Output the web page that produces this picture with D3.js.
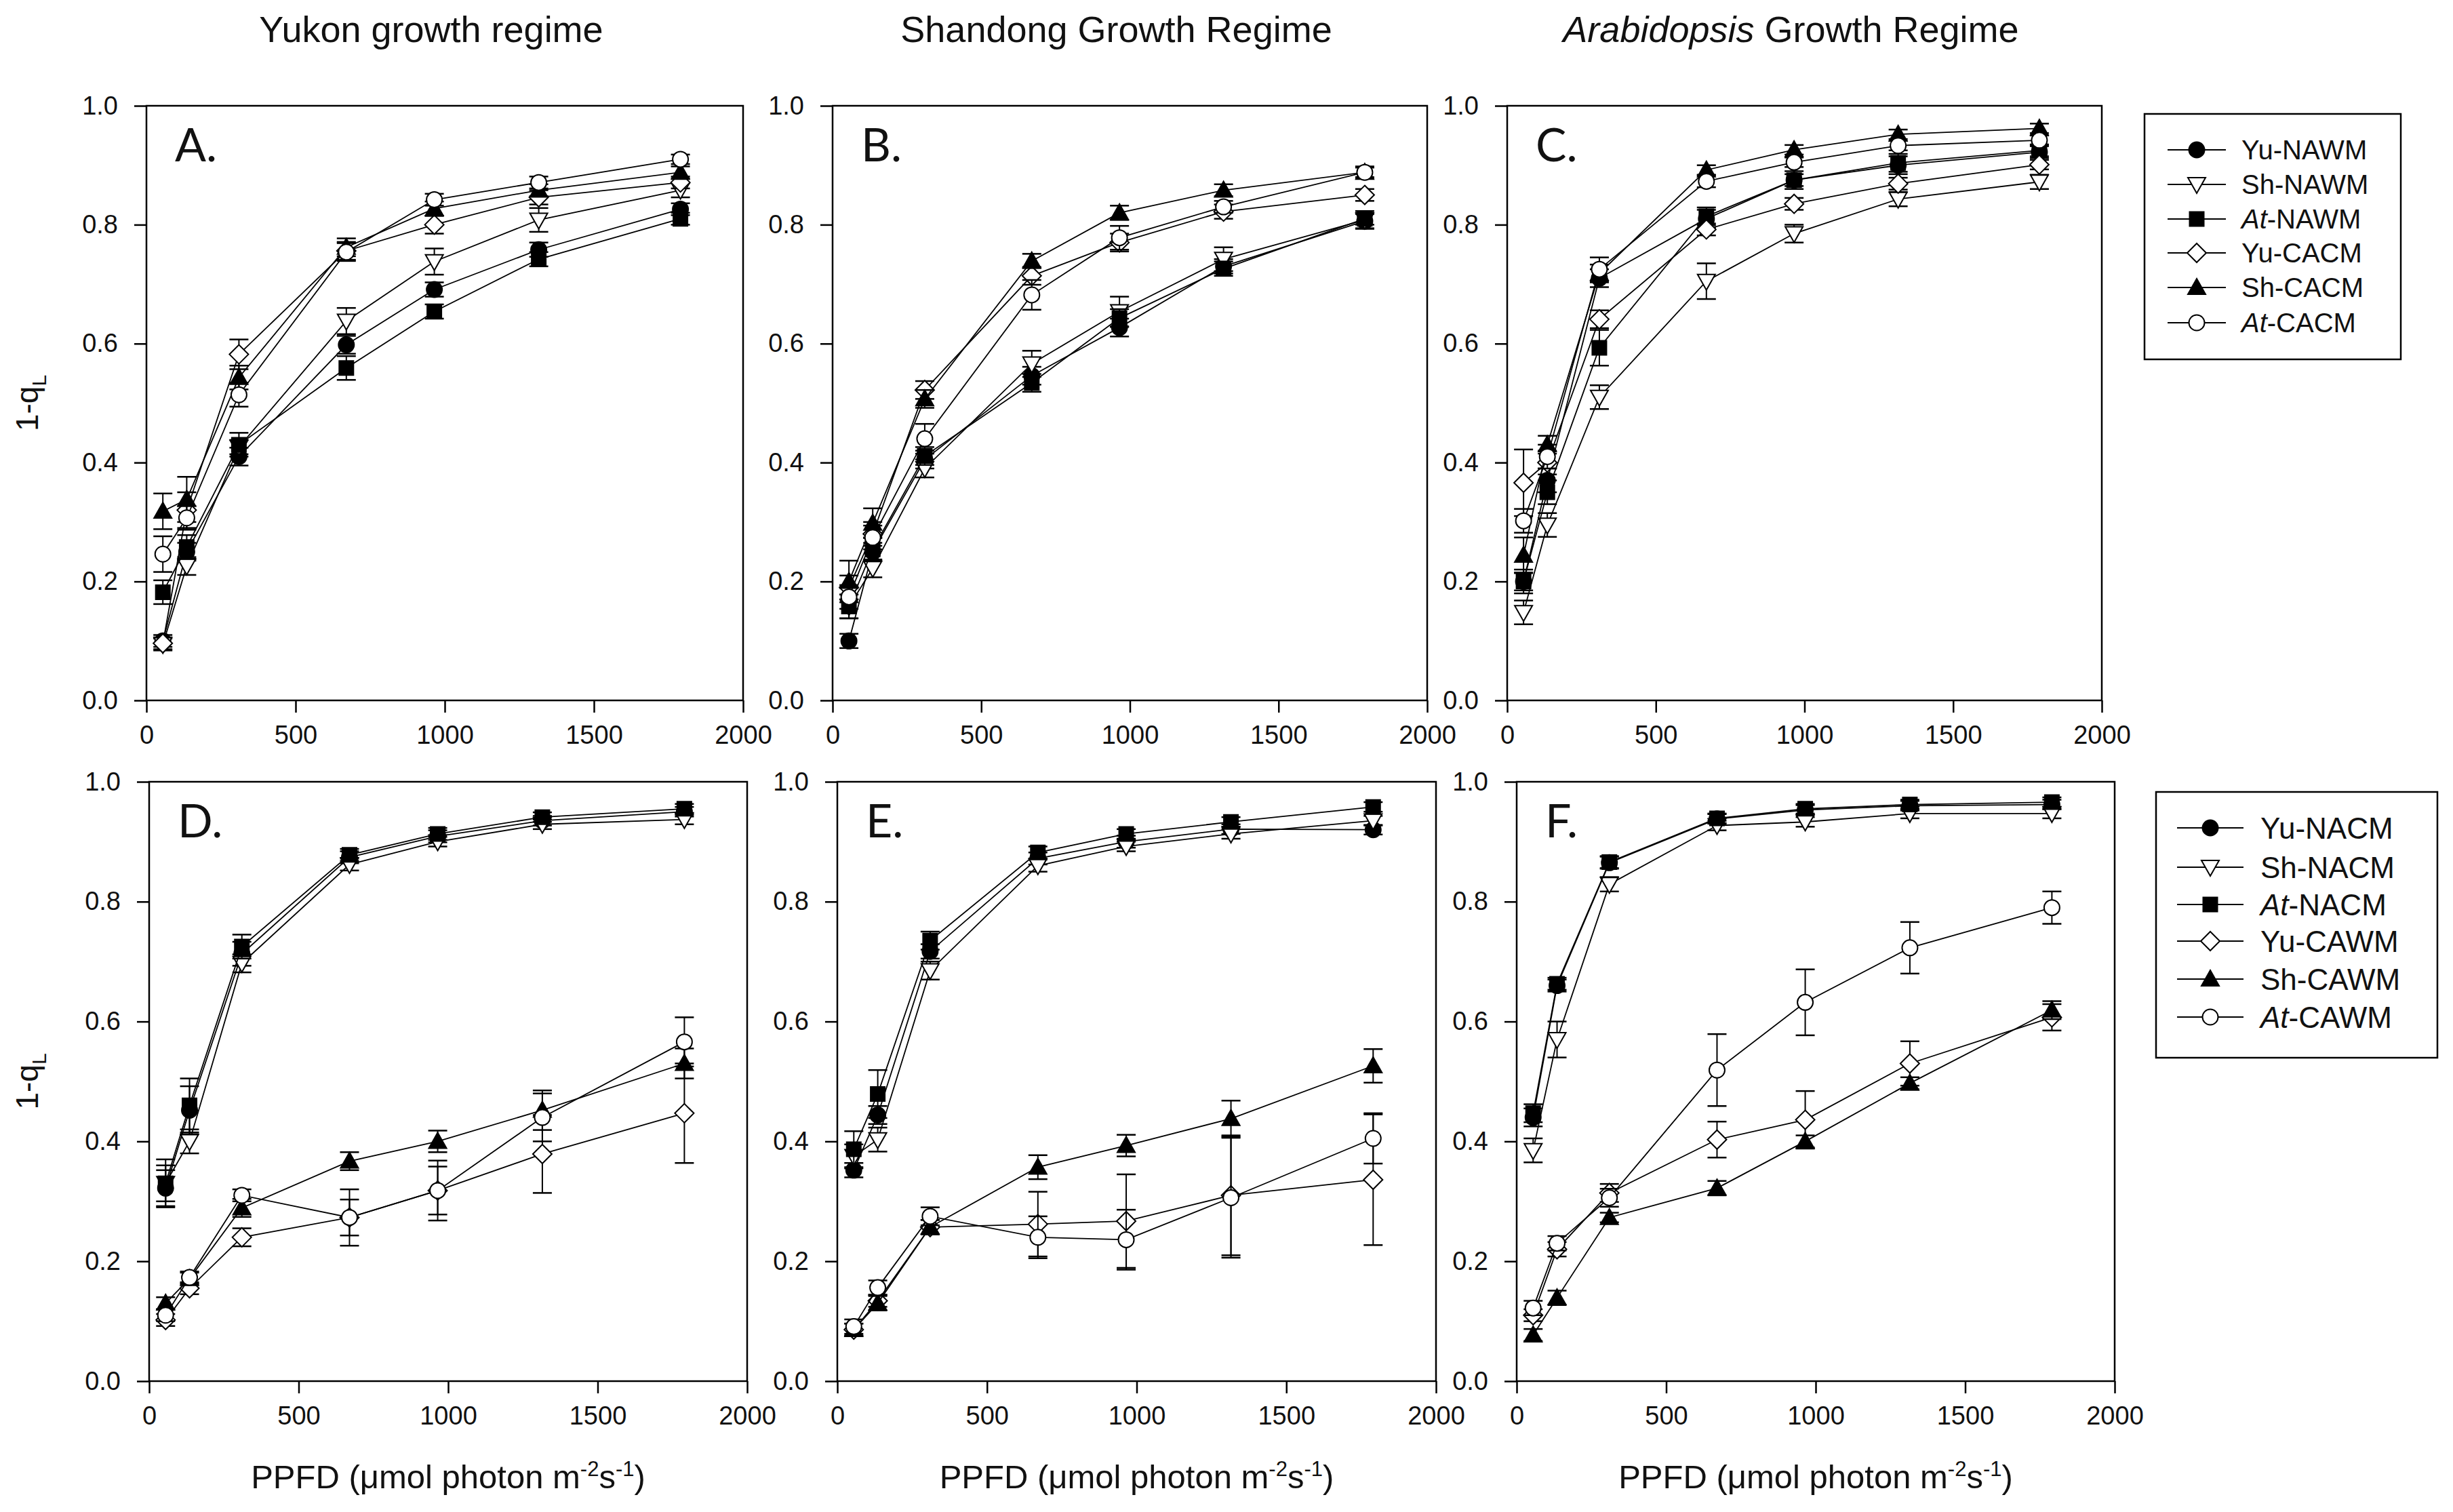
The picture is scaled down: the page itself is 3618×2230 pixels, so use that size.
<!DOCTYPE html>
<html>
<head>
<meta charset="utf-8">
<script src="https://cdn.jsdelivr.net/npm/d3@7"></script>
<style>
  body { margin: 0; background: #fff; }
  text { font-family: "Liberation Sans", Arial, sans-serif; fill: #111; }
</style>
</head>
<body>
<div id="chart"></div>
<script>
// PPFD levels used for every curve
const ppfd = [55, 135, 310, 670, 965, 1315, 1790];
const xTicks = [0, 500, 1000, 1500, 2000];
const yTicks = [0, 0.2, 0.4, 0.6, 0.8, 1.0];

const topSeries = ["Yu-NAWM", "Sh-NAWM", "At-NAWM", "Yu-CACM", "Sh-CACM", "At-CACM"];
const bottomSeries = ["Yu-NACM", "Sh-NACM", "At-NACM", "Yu-CAWM", "Sh-CAWM", "At-CAWM"];
const titles = ["Yukon growth regime", "Shandong Growth Regime", "Arabidopsis Growth Regime"];
const letters = ["A.", "B.", "C.", "D.", "E.", "F."];

// 1-qL means, one row per series (same order as the legend)
const valuesA = [
  [0.10, 0.25, 0.41, 0.598, 0.691, 0.758, 0.826],
  [0.094, 0.226, 0.426, 0.638, 0.738, 0.808, 0.858],
  [0.182, 0.258, 0.43, 0.559, 0.654, 0.742, 0.81],
  [0.096, 0.32, 0.582, 0.756, 0.80, 0.846, 0.871],
  [0.318, 0.338, 0.543, 0.762, 0.827, 0.858, 0.888],
  [0.246, 0.307, 0.514, 0.754, 0.842, 0.871, 0.91]
];
const errA = [
  [0.01, 0.015, 0.015, 0.015, 0.012, 0.012, 0.01],
  [0.01, 0.015, 0.012, 0.022, 0.022, 0.02, 0.012],
  [0.02, 0.02, 0.02, 0.02, 0.012, 0.012, 0.01],
  [0.01, 0.03, 0.025, 0.015, 0.015, 0.012, 0.01],
  [0.03, 0.038, 0.02, 0.015, 0.012, 0.01, 0.01],
  [0.03, 0.02, 0.02, 0.015, 0.01, 0.01, 0.008]
];

const valuesB = [
  [0.10, 0.25, 0.405, 0.546, 0.627, 0.73, 0.806],
  [0.158, 0.222, 0.39, 0.566, 0.654, 0.742, 0.808],
  [0.158, 0.254, 0.411, 0.534, 0.643, 0.726, 0.81],
  [0.19, 0.28, 0.522, 0.714, 0.77, 0.822, 0.85],
  [0.20, 0.298, 0.507, 0.739, 0.82, 0.858, 0.888],
  [0.174, 0.274, 0.44, 0.682, 0.778, 0.83, 0.888]
];
const errB = [
  [0.012, 0.015, 0.015, 0.015, 0.015, 0.012, 0.012],
  [0.02, 0.015, 0.015, 0.022, 0.025, 0.02, 0.015],
  [0.02, 0.02, 0.015, 0.015, 0.015, 0.012, 0.01],
  [0.02, 0.02, 0.015, 0.015, 0.015, 0.012, 0.01],
  [0.035, 0.025, 0.015, 0.012, 0.012, 0.01, 0.008],
  [0.02, 0.02, 0.025, 0.025, 0.02, 0.01, 0.01]
];

const valuesC = [
  [0.20, 0.37, 0.71, 0.81, 0.875, 0.90, 0.922],
  [0.148, 0.295, 0.51, 0.705, 0.785, 0.843, 0.872],
  [0.20, 0.35, 0.593, 0.814, 0.875, 0.904, 0.925],
  [0.366, 0.40, 0.641, 0.792, 0.835, 0.869, 0.901],
  [0.244, 0.43, 0.718, 0.892, 0.926, 0.952, 0.962],
  [0.302, 0.41, 0.725, 0.873, 0.905, 0.933, 0.942]
];
const errC = [
  [0.015, 0.02, 0.015, 0.015, 0.01, 0.015, 0.01],
  [0.02, 0.02, 0.02, 0.03, 0.015, 0.012, 0.012],
  [0.02, 0.02, 0.03, 0.015, 0.015, 0.015, 0.01],
  [0.056, 0.02, 0.015, 0.01, 0.01, 0.01, 0.008],
  [0.03, 0.015, 0.015, 0.008, 0.008, 0.008, 0.008],
  [0.02, 0.02, 0.02, 0.01, 0.008, 0.008, 0.008]
];

const valuesD = [
  [0.322, 0.452, 0.713, 0.874, 0.909, 0.935, 0.95],
  [0.33, 0.40, 0.697, 0.862, 0.90, 0.929, 0.937],
  [0.33, 0.46, 0.725, 0.878, 0.913, 0.941, 0.955],
  [0.102, 0.155, 0.24, 0.273, 0.318, 0.379, 0.447],
  [0.13, 0.171, 0.289, 0.367, 0.40, 0.452, 0.53],
  [0.11, 0.173, 0.31, 0.273, 0.318, 0.44, 0.566]
];
const errD = [
  [0.03, 0.04, 0.02, 0.01, 0.01, 0.008, 0.008],
  [0.03, 0.02, 0.015, 0.01, 0.008, 0.008, 0.008],
  [0.04, 0.045, 0.02, 0.01, 0.01, 0.008, 0.008],
  [0.01, 0.01, 0.015, 0.03, 0.04, 0.065, 0.083],
  [0.01, 0.01, 0.015, 0.015, 0.018, 0.033, 0.025],
  [0.01, 0.01, 0.01, 0.047, 0.05, 0.04, 0.041]
];

const valuesE = [
  [0.352, 0.444, 0.717, 0.872, 0.90, 0.921, 0.92],
  [0.375, 0.403, 0.685, 0.86, 0.892, 0.913, 0.935],
  [0.387, 0.479, 0.735, 0.882, 0.913, 0.933, 0.958],
  [0.086, 0.134, 0.257, 0.262, 0.267, 0.31, 0.336],
  [0.086, 0.13, 0.257, 0.357, 0.393, 0.438, 0.526],
  [0.091, 0.156, 0.275, 0.24, 0.236, 0.306, 0.405]
];
const errE = [
  [0.012, 0.015, 0.012, 0.01, 0.01, 0.008, 0.008],
  [0.02, 0.02, 0.015, 0.01, 0.008, 0.008, 0.008],
  [0.03, 0.04, 0.015, 0.01, 0.008, 0.008, 0.008],
  [0.01, 0.01, 0.012, 0.054, 0.078, 0.1, 0.109],
  [0.01, 0.012, 0.012, 0.02, 0.018, 0.03, 0.028],
  [0.012, 0.012, 0.015, 0.035, 0.05, 0.1, 0.042]
];

const valuesF = [
  [0.44, 0.66, 0.865, 0.938, 0.953, 0.96, 0.962],
  [0.385, 0.57, 0.829, 0.927, 0.933, 0.947, 0.947],
  [0.447, 0.663, 0.866, 0.939, 0.955, 0.962, 0.966],
  [0.11, 0.22, 0.314, 0.403, 0.436, 0.53, 0.607],
  [0.077, 0.139, 0.273, 0.322, 0.40, 0.497, 0.619],
  [0.122, 0.23, 0.306, 0.519, 0.632, 0.723, 0.79]
];
const errF = [
  [0.015, 0.01, 0.01, 0.008, 0.008, 0.008, 0.008],
  [0.02, 0.03, 0.012, 0.008, 0.008, 0.008, 0.008],
  [0.015, 0.01, 0.01, 0.008, 0.008, 0.008, 0.008],
  [0.01, 0.012, 0.015, 0.03, 0.048, 0.037, 0.022],
  [0.01, 0.012, 0.008, 0.012, 0.01, 0.01, 0.015],
  [0.012, 0.012, 0.015, 0.06, 0.055, 0.043, 0.027]
];

const panelValues = [valuesA, valuesB, valuesC, valuesD, valuesE, valuesF];
const panelErrors = [errA, errB, errC, errD, errE, errF];

// marker per series position: filled circle, open down triangle, filled square,
// open diamond, filled up triangle, open circle
const markers = [
  { shape: "circle", fill: "#000" },
  { shape: "down", fill: "#fff" },
  { shape: "square", fill: "#000" },
  { shape: "diamond", fill: "#fff" },
  { shape: "up", fill: "#000" },
  { shape: "circle", fill: "#fff" }
];

function markerPath(shape) {
  switch (shape) {
    case "circle": return d3.symbol(d3.symbolCircle, Math.PI * 11.5 * 11.5)();
    case "square": return "M-10.5,-10.5H10.5V10.5H-10.5Z";
    case "diamond": return "M0,-14L14,0L0,14L-14,0Z";
    case "up": return "M0,-13L13,10L-13,10Z";
    case "down": return "M0,13L13,-10L-13,-10Z";
  }
}

const W = 3618, H = 2230;
const svg = d3.select("#chart").append("svg")
  .attr("width", W).attr("height", H)
  .style("display", "block");

const panels = [
  { x: 216, y: 156, w: 880, h: 877 },
  { x: 1228, y: 156, w: 877, h: 877 },
  { x: 2223, y: 156, w: 877, h: 877 },
  { x: 220, y: 1153, w: 882, h: 884 },
  { x: 1235, y: 1153, w: 883, h: 884 },
  { x: 2237, y: 1153, w: 882, h: 884 }
];

panels.forEach((p, pi) => {
  const g = svg.append("g").attr("transform", `translate(${p.x},${p.y})`);
  const x = d3.scaleLinear().domain([0, 2000]).range([0, p.w]);
  const y = d3.scaleLinear().domain([0, 1]).range([p.h, 0]);

  // axes
  const yAxis = g.append("g")
    .call(d3.axisLeft(y).tickValues(yTicks).tickFormat(d3.format(".1f"))
      .tickSize(18).tickSizeOuter(0).tickPadding(24));
  const xAxis = g.append("g").attr("transform", `translate(0,${p.h})`)
    .call(d3.axisBottom(x).tickValues(xTicks).tickFormat(d3.format("d"))
      .tickSize(18).tickSizeOuter(0).tickPadding(19));
  [yAxis, xAxis].forEach(a => {
    a.select(".domain").remove();
    a.selectAll("line").attr("stroke", "#000").attr("stroke-width", 2.5);
    a.selectAll("text").style("font-size", "38px").attr("fill", "#222")
      .style("font-family", '"Liberation Sans", Arial, sans-serif');
  });

  g.append("rect").attr("width", p.w).attr("height", p.h)
    .attr("fill", "none").attr("stroke", "#000").attr("stroke-width", 2.5);

  g.append("text").attr("x", 42).attr("y", 82)
    .style("font-family", "Lato, 'Open Sans', sans-serif")
    .style("font-size", "68px").attr("fill", "#000")
    .text(letters[pi]);

  const vals = panelValues[pi];
  const errs = panelErrors[pi];
  const line = d3.line().x((d, i) => x(ppfd[i])).y(d => y(d));

  vals.forEach((series, si) => {
    const sg = g.append("g");
    sg.append("path").datum(series).attr("d", line)
      .attr("fill", "none").attr("stroke", "#000").attr("stroke-width", 1.8);

    const eb = sg.selectAll(".eb").data(series).enter().append("g");
    eb.append("line")
      .attr("x1", (d, i) => x(ppfd[i])).attr("x2", (d, i) => x(ppfd[i]))
      .attr("y1", (d, i) => y(d + errs[si][i])).attr("y2", (d, i) => y(d - errs[si][i]))
      .attr("stroke", "#000").attr("stroke-width", 2);
    [1, -1].forEach(sign => {
      eb.append("line")
        .attr("x1", (d, i) => x(ppfd[i]) - 14).attr("x2", (d, i) => x(ppfd[i]) + 14)
        .attr("y1", (d, i) => y(d + sign * errs[si][i]))
        .attr("y2", (d, i) => y(d + sign * errs[si][i]))
        .attr("stroke", "#000").attr("stroke-width", 2.5);
    });

    const m = markers[si];
    sg.selectAll(".mk").data(series).enter().append("path")
      .attr("transform", (d, i) => `translate(${x(ppfd[i])},${y(d)})`)
      .attr("d", markerPath(m.shape))
      .attr("fill", m.fill).attr("stroke", "#000").attr("stroke-width", 2);
  });
});

// column titles
titles.forEach((t, i) => {
  const p = panels[i];
  const tx = svg.append("text")
    .attr("x", p.x + p.w / 2 - 20).attr("y", 62)
    .attr("text-anchor", "middle").style("font-size", "54px");
  if (t.startsWith("Arabidopsis")) {
    tx.append("tspan").style("font-style", "italic").text("Arabidopsis");
    tx.append("tspan").text(t.slice("Arabidopsis".length));
  } else {
    tx.text(t);
  }
});

// y axis labels
[panels[0], panels[3]].forEach(p => {
  const cy = p.y + p.h / 2;
  const t = svg.append("text")
    .attr("transform", `translate(56,${cy}) rotate(-90)`)
    .attr("text-anchor", "middle").style("font-size", "46px");
  t.append("tspan").text("1-q");
  t.append("tspan").attr("dy", 12).style("font-size", "30px").text("L");
});

// x axis labels
panels.slice(3).forEach(p => {
  const t = svg.append("text")
    .attr("x", p.x + p.w / 2).attr("y", 2195)
    .attr("text-anchor", "middle").style("font-size", "49px");
  t.append("tspan").text("PPFD (\u03bcmol photon m");
  t.append("tspan").attr("dy", -18).style("font-size", "31px").text("-2");
  t.append("tspan").attr("dy", 18).text("s");
  t.append("tspan").attr("dy", -18).style("font-size", "31px").text("-1");
  t.append("tspan").attr("dy", 18).text(")");
});

// legends
function legend(names, box, rowY, lineX, textX, fontSize) {
  svg.append("rect").attr("x", box.x).attr("y", box.y)
    .attr("width", box.w).attr("height", box.h)
    .attr("fill", "#fff").attr("stroke", "#000").attr("stroke-width", 2.5);
  names.forEach((name, i) => {
    const ly = rowY[i];
    svg.append("line").attr("x1", lineX[0]).attr("x2", lineX[1])
      .attr("y1", ly).attr("y2", ly).attr("stroke", "#000").attr("stroke-width", 2);
    const m = markers[i];
    svg.append("path").attr("transform", `translate(${(lineX[0] + lineX[1]) / 2},${ly})`)
      .attr("d", markerPath(m.shape))
      .attr("fill", m.fill).attr("stroke", "#000").attr("stroke-width", 2);
    const t = svg.append("text").attr("x", textX).attr("y", ly)
      .attr("dy", "0.36em").style("font-size", fontSize + "px");
    const [pre, post] = name.split("-");
    if (pre === "At") {
      t.append("tspan").style("font-style", "italic").text("At");
      t.append("tspan").text("-" + post);
    } else {
      t.text(name);
    }
  });
}

legend(topSeries, { x: 3163, y: 168, w: 378, h: 362 },
  [221, 272, 323, 373, 424, 476], [3197, 3283], 3306, 40);
legend(bottomSeries, { x: 3180, y: 1168, w: 415, h: 392 },
  [1221, 1279, 1334, 1388, 1444, 1500], [3211, 3309], 3334, 44);
</script>
</body>
</html>
